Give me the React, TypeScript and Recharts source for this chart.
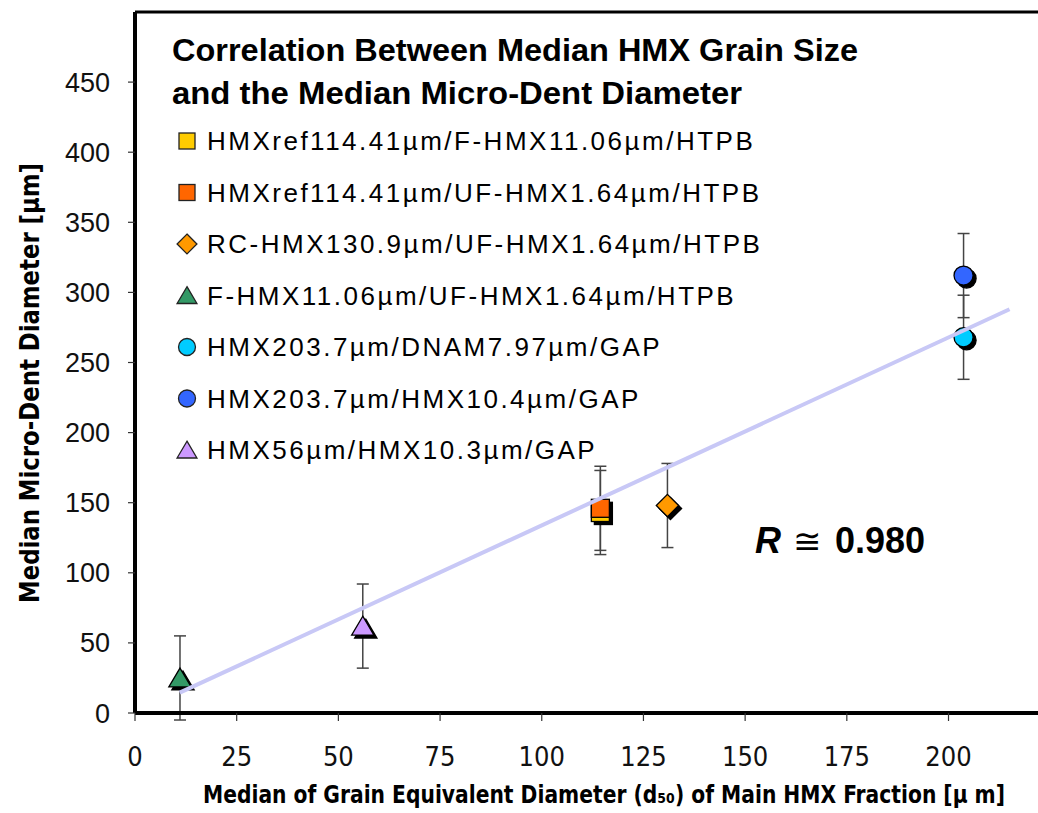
import React from 'react';
import {
  ScatterChart,
  Scatter,
  XAxis,
  YAxis,
  ErrorBar,
  ReferenceLine,
  Legend,
  Label,
} from 'recharts';

const seriesNames = [
  'HMXref114.41µm/F-HMX11.06µm/HTPB',
  'HMXref114.41µm/UF-HMX1.64µm/HTPB',
  'RC-HMX130.9µm/UF-HMX1.64µm/HTPB',
  'F-HMX11.06µm/UF-HMX1.64µm/HTPB',
  'HMX203.7µm/DNAM7.97µm/GAP',
  'HMX203.7µm/HMX10.4µm/GAP',
  'HMX56µm/HMX10.3µm/GAP',
];
const seriesX = [114.41, 114.41, 130.9, 11.06, 203.7, 203.7, 56];
const seriesY = [143, 146, 148, 25, 268, 312, 62];
const seriesErr = [30, 30, 30, 30, 30, 30, 30];
const seriesColors = ['#FFCC00', '#FF6600', '#FF9900', '#339966', '#00CCFF', '#3366FF', '#CC99FF'];
const seriesShapes = ['square', 'square', 'diamond', 'triangle', 'circle', 'circle', 'triangle'];

// linear fit drawn in the original
const trendX = [11, 215];
const trendY = [14.5, 288];

const xTicks = [0, 25, 50, 75, 100, 125, 150, 175, 200];
const yTicks = [0, 50, 100, 150, 200, 250, 300, 350, 400, 450];

const ARIAL = "'Liberation Sans', Arial, sans-serif";
const NARROW = "'Liberation Sans Narrow', 'DejaVu Sans Condensed', Arial, sans-serif";

function drawSymbol(kind: string, cx: number, cy: number, fill: string, s: number, stroke = '#000') {
  if (kind === 'square') {
    return <rect x={cx - s / 2} y={cy - s / 2} width={s} height={s} fill={fill} stroke={stroke} strokeWidth={1.3} />;
  }
  if (kind === 'diamond') {
    const h = s * 0.62;
    return (
      <polygon
        points={`${cx},${cy - h} ${cx + h},${cy} ${cx},${cy + h} ${cx - h},${cy}`}
        fill={fill}
        stroke={stroke}
        strokeWidth={1.3}
      />
    );
  }
  if (kind === 'triangle') {
    const w = s * 0.62;
    return (
      <polygon
        points={`${cx},${cy - s * 0.55} ${cx + w},${cy + s * 0.5} ${cx - w},${cy + s * 0.5}`}
        fill={fill}
        stroke={stroke}
        strokeWidth={1.3}
      />
    );
  }
  return <circle cx={cx} cy={cy} r={s * 0.53} fill={fill} stroke={stroke} strokeWidth={1.3} />;
}

const shadowShape = (kind: string) => (props: any) => {
  const { cx, cy } = props;
  if (cx == null || cy == null) return <g />;
  return <g>{drawSymbol(kind, cx + 3, cy + 3, '#000', 18)}</g>;
};

const markerShape = (kind: string, color: string) => (props: any) => {
  const { cx, cy } = props;
  if (cx == null || cy == null) return <g />;
  return <g>{drawSymbol(kind, cx, cy, color, 18)}</g>;
};

const seriesData = seriesNames.map((name, i) => [
  { x: seriesX[i], y: seriesY[i], err: seriesErr[i], name },
]);
const trendData = trendX.map((x, i) => ({ x, y: trendY[i] }));

const LegendBox = () => (
  <svg width={1038} height={813} style={{ position: 'absolute', left: 0, top: 0 }}>
    <text x={172} y={61} fontFamily={ARIAL} fontWeight="bold" fontSize={31} fill="#000" textLength={686} lengthAdjust="spacingAndGlyphs">
      Correlation Between Median HMX Grain Size
    </text>
    <text x={172} y={104} fontFamily={ARIAL} fontWeight="bold" fontSize={31} fill="#000" textLength={570} lengthAdjust="spacingAndGlyphs">
      and the Median Micro-Dent Diameter
    </text>
    {seriesNames.map((name, i) => {
      const cy = 141 + i * 51.5;
      return (
        <g key={name}>
          {drawSymbol(seriesShapes[i], 187, cy, seriesColors[i], 16, '#222')}
          <text x={207} y={cy + 9} fontFamily={ARIAL} fontSize={26} fill="#000" letterSpacing={2.5}>
            {name}
          </text>
        </g>
      );
    })}
    <text x={755} y={553} fill="#000">
      <tspan fontFamily={ARIAL} fontWeight="bold" fontStyle="italic" fontSize={36}>R</tspan>
      <tspan fontFamily={ARIAL} fontSize={34} dx={12}>≅</tspan>
      <tspan fontFamily={ARIAL} fontWeight="bold" fontSize={36} dx={14}>0.980</tspan>
    </text>
  </svg>
);

export default function App() {
  return (
    <div style={{ position: 'absolute', left: 0, top: 0, width: 1038, height: 813, background: '#fff' }}>
      <ScatterChart width={1038} height={813} margin={{ top: 12, right: 0, bottom: 0, left: 0 }}>
        <XAxis
          type="number"
          dataKey="x"
          domain={[0, 222]}
          ticks={xTicks}
          allowDataOverflow
          height={100}
          axisLine={{ stroke: '#000', strokeWidth: 4 }}
          tickLine={{ stroke: '#333', strokeWidth: 1.2 }}
          tickSize={8}
          tickMargin={26}
          tick={{ fill: '#111', fontSize: 27, fontFamily: NARROW }}
        >
          <Label
            content={() => (
              <text x={203} y={803} fontFamily={NARROW} fontWeight="bold" fontSize={24} fill="#000" textLength={802} lengthAdjust="spacingAndGlyphs">
                Median of Grain Equivalent Diameter (d₅₀) of Main HMX Fraction [µ m]
              </text>
            )}
          />
        </XAxis>
        <YAxis
          type="number"
          dataKey="y"
          domain={[0, 500]}
          ticks={yTicks}
          allowDataOverflow
          width={135}
          axisLine={{ stroke: '#000', strokeWidth: 4 }}
          tickLine={{ stroke: '#333', strokeWidth: 1.2 }}
          tickSize={7}
          tickMargin={18}
          tick={{ fill: '#111', fontSize: 27, fontFamily: ARIAL }}
        >
          <Label
            content={() => (
              <text
                x={0}
                y={0}
                transform="translate(39, 603) rotate(-90)"
                fontFamily={NARROW}
                fontWeight="bold"
                fontSize={26}
                fill="#000"
                textLength={440}
                lengthAdjust="spacingAndGlyphs"
              >
                Median Micro-Dent Diameter [µm]
              </text>
            )}
          />
        </YAxis>
        <ReferenceLine y={500} stroke="#000" strokeWidth={3} />

        {seriesData.map((d, i) => (
          <Scatter
            key={`shadow-${i}`}
            data={d}
            isAnimationActive={false}
            legendType="none"
            shape={shadowShape(seriesShapes[i])}
          >
            <ErrorBar dataKey="err" direction="y" width={6} stroke="#444" strokeWidth={1.5} />
          </Scatter>
        ))}
        {seriesData.map((d, i) => (
          <Scatter
            key={`marker-${i}`}
            name={seriesNames[i]}
            data={d}
            isAnimationActive={false}
            shape={markerShape(seriesShapes[i], seriesColors[i])}
          />
        ))}
        <Scatter
          data={trendData}
          isAnimationActive={false}
          legendType="none"
          line={{ stroke: '#c8c8f6', strokeWidth: 4 }}
          shape={() => <g />}
        />

        <Legend
          layout="vertical"
          align="center"
          verticalAlign="middle"
          wrapperStyle={{ left: 0, top: 0, width: 1038, height: 813, pointerEvents: 'none' }}
          content={() => <LegendBox />}
        />
      </ScatterChart>
    </div>
  );
}
